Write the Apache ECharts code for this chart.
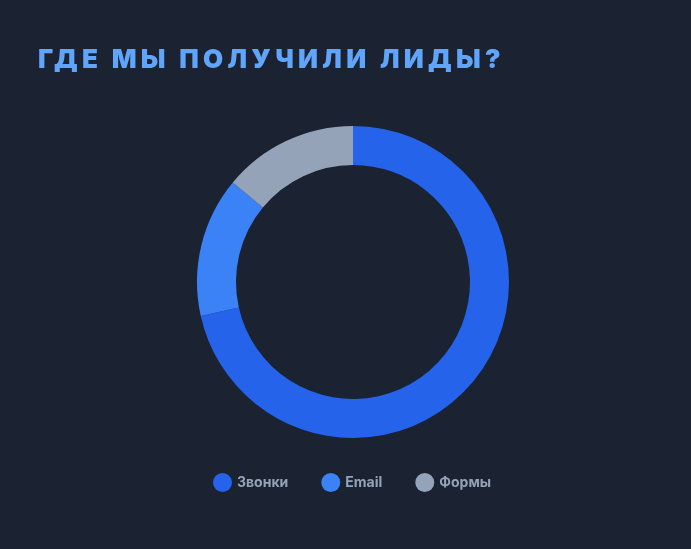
<!DOCTYPE html>
<html>
<head>
<meta charset="utf-8">
<script src="https://cdn.jsdelivr.net/npm/echarts@6/dist/echarts.min.js"></script>
<style>
  html, body { margin: 0; padding: 0; background: #1b2232; }
  #wrap { position: relative; width: 691px; height: 549px; }
  #chart { position: absolute; left: 0; top: 0; width: 691px; height: 549px; }
  #title { position: absolute; left: 38px; top: 41px; margin: 0; color: #60a5fa;
    font-family: Inter, "Noto Sans", sans-serif; font-weight: 900; font-size: 26px;
    letter-spacing: 4.3px; line-height: 36px; z-index: 2; }
</style>
</head>
<body>
<div id="wrap">
  <div id="title">ГДЕ МЫ ПОЛУЧИЛИ ЛИДЫ?</div>
  <div id="chart"></div>
</div>
<script>
const titleText = 'ГДЕ МЫ ПОЛУЧИЛИ ЛИДЫ?';
const categories = ['Звонки', 'Email', 'Формы'];
const values = [143, 29, 28];
const colors = ['#2563eb', '#3b82f6', '#94a3b8'];

const chart = echarts.init(document.getElementById('chart'), null, { renderer: 'canvas' });
chart.setOption({
  backgroundColor: 'transparent',
  animation: false,
  color: colors,
  legend: {
    bottom: 52,
    left: 208,
    icon: 'circle',
    itemWidth: 19,
    itemHeight: 19,
    itemGap: 33,
    textStyle: { color: '#94a3b8', fontFamily: 'Inter, sans-serif', fontWeight: 'bold', fontSize: 14 },
    data: categories
  },
  series: [{
    type: 'pie',
    center: [353, 282],
    radius: [117, 156],
    startAngle: 90,
    clockwise: true,
    label: { show: false },
    labelLine: { show: false },
    itemStyle: { borderWidth: 0 },
    emphasis: { disabled: true },
    data: categories.map((c, i) => ({ name: c, value: values[i] }))
  }]
});
</script>
</body>
</html>
